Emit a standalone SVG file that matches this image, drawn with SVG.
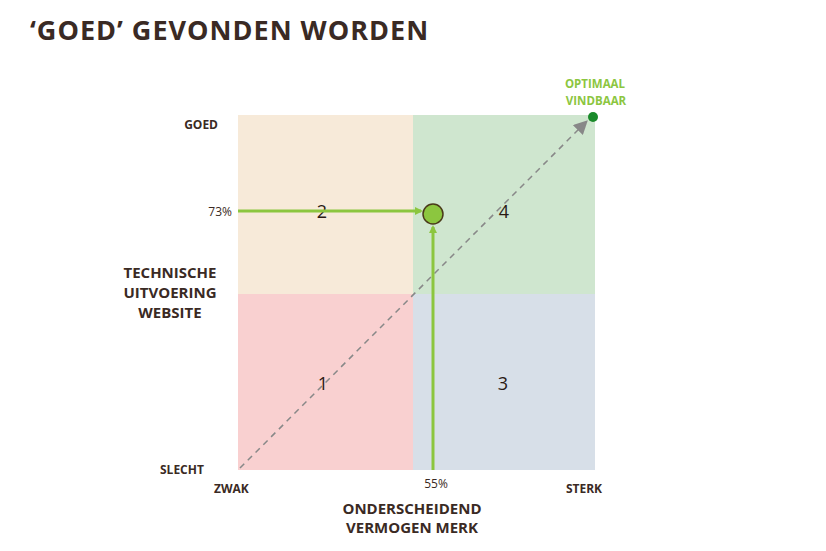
<svg xmlns="http://www.w3.org/2000/svg" width="826" height="551" viewBox="0 0 826 551">
<style>
text{font-family:"Open Sans","Liberation Sans",sans-serif;font-weight:bold;fill:#3a2a24}
.s{font-size:12px}
.m{font-size:15px}
.n{font-size:18px;font-weight:normal;fill:#2a1a14}
.g{fill:#8cc63f;font-size:11.5px}
</style>
<defs>
<marker id="ag" markerWidth="8" markerHeight="8" refX="6" refY="4" orient="auto" markerUnits="userSpaceOnUse"><path d="M0,0L8,4L0,8z" fill="#8cc63f"/></marker>
<marker id="ad" markerWidth="14" markerHeight="14" refX="10" refY="7" orient="auto" markerUnits="userSpaceOnUse"><path d="M0,0L14,7L0,14z" fill="#888"/></marker>
</defs>
<rect width="826" height="551" fill="#fff"/>
<text x="30" y="40" style="font-size:27px;letter-spacing:1px">‘GOED’ GEVONDEN WORDEN</text>
<g id="q2"><rect x="238" y="115" width="175" height="179" fill="#f7ead9"/><text class="n" x="322" y="218" text-anchor="middle">2</text></g>
<g id="q4"><rect x="413" y="115" width="182" height="179" fill="#cfe6cf"/><text class="n" x="504" y="218" text-anchor="middle">4</text></g>
<g id="q1"><rect x="238" y="294" width="175" height="176" fill="#f9d0d0"/><text class="n" x="323" y="390" text-anchor="middle">1</text></g>
<g id="q3"><rect x="413" y="294" width="182" height="176" fill="#d7dfe8"/><text class="n" x="503" y="390" text-anchor="middle">3</text></g>
<g id="connectors">
<line x1="240" y1="468" x2="585" y2="123" stroke="#888" stroke-width="1.5" stroke-dasharray="6,5" marker-end="url(#ad)"/>
<line x1="238" y1="211" x2="421" y2="211" stroke="#8cc63f" stroke-width="3" marker-end="url(#ag)"/>
<line x1="433" y1="470" x2="433" y2="227" stroke="#8cc63f" stroke-width="3" marker-end="url(#ag)"/>
</g>
<g id="point"><circle cx="433" cy="214" r="10" fill="#8cc63f" stroke="#4a3a1a" stroke-width="1.5"/></g>
<g id="optimaal"><circle cx="593" cy="117" r="5" fill="#1a8a2a"/><text class="g" x="595" y="88" text-anchor="middle">OPTIMAAL</text><text class="g" x="596" y="105" text-anchor="middle">VINDBAAR</text></g>
<g id="labels">
<text class="s" x="218" y="129" text-anchor="end">GOED</text>
<text class="s" x="232" y="216" text-anchor="end" style="font-weight:normal">73%</text>
<text class="m" x="170" y="278" text-anchor="middle">TECHNISCHE</text>
<text class="m" x="170" y="298" text-anchor="middle">UITVOERING</text>
<text class="m" x="170" y="318" text-anchor="middle">WEBSITE</text>
<text class="s" x="160" y="474">SLECHT</text>
<text class="s" x="214" y="493">ZWAK</text>
<text class="s" x="436" y="488" text-anchor="middle" style="font-weight:normal">55%</text>
<text class="s" x="584" y="493" text-anchor="middle">STERK</text>
<text class="m" x="412" y="514" text-anchor="middle">ONDERSCHEIDEND</text>
<text class="m" x="412" y="533" text-anchor="middle">VERMOGEN MERK</text>
</g>
</svg>
